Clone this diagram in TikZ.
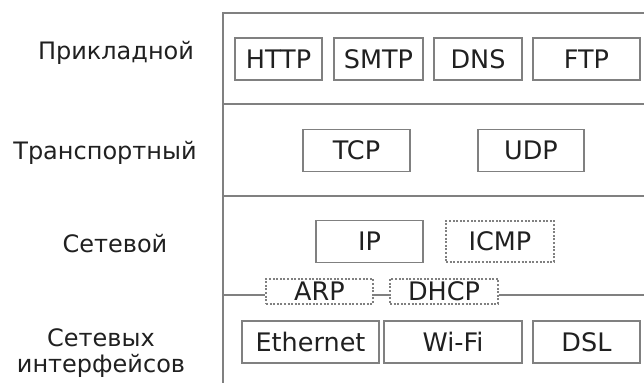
\documentclass[tikz,border=0pt]{standalone}
\usepackage{fontspec}
\setmainfont{DejaVu Sans}
\definecolor{vien}{HTML}{808080}
\definecolor{chu}{HTML}{202020}
\begin{document}
\begin{tikzpicture}[x=1pt,y=-1pt,
    o/.style={draw=vien,line width=1.2pt,text=chu,minimum height=42pt,inner sep=0pt,font=\fontsize{25.5}{27}\selectfont},
    od/.style={o,minimum height=25pt,dash pattern=on 2pt off 1.6pt},
    tang/.style={text=chu,align=center,inner sep=0pt,font=\fontsize{24}{26}\selectfont}]
    \useasboundingbox (0,0) rectangle (644,383);
    \def\t{223}% mép trái khung
    \def\p{644}% mép phải
    % khung
    \draw[vien,line width=1.2pt] (\p,13)--(\t,13)--(\t,383)
    (\t,104)--(\p,104)
    (\t,196)--(\p,196);
    % tên tầng
    \path
    (116,53) node[tang] (l1) {Прикладной}
    (105,153) node[tang] (l2) {Транспортный}
    (115,244) node[tang] (l3) {Сетевой}
    (101,353) node[tang] (l4) {Сетевых\\интерфейсов};
    % giao thức
    \foreach \ten/\x/\w/\chu in {http/278.5/87/HTTP,smtp/378.5/89/SMTP,dns/478/88/DNS,ftp/586.5/107/FTP}
    \node[o,minimum width=\w pt] (\ten) at (\x,59) {\chu};
    \foreach \ten/\x/\w/\chu in {tcp/356.5/107/TCP,udp/531/106/UDP}
    \node[o,minimum width=\w pt] (\ten) at (\x,150.5) {\chu};
    \node[o,minimum width=107pt] (ip) at (369.5,241.5) {IP};
    \node[od,minimum width=108pt,minimum height=41pt] (icmp) at (500,241.5) {ICMP};
    \node[od,minimum width=107pt] (arp) at (319.5,291.5) {ARP};
    \node[od,minimum width=108pt] (dhcp) at (444,291.5) {DHCP};
    \foreach \ten/\x/\w/\chu in {eth/310.5/137/Ethernet,wifi/453/138/Wi-Fi,dsl/586.5/107/DSL}
    \node[o,minimum width=\w pt] (\ten) at (\x,342) {\chu};
    % đường chia dưới
    \coordinate (a) at (\t,295);
    \coordinate (b) at (\p,295);
    \draw[vien,line width=1.2pt] (a)--(a-|arp.west) (arp.east|-a)--(a-|dhcp.west) (dhcp.east|-a)--(b);
\end{tikzpicture}
\end{document}
